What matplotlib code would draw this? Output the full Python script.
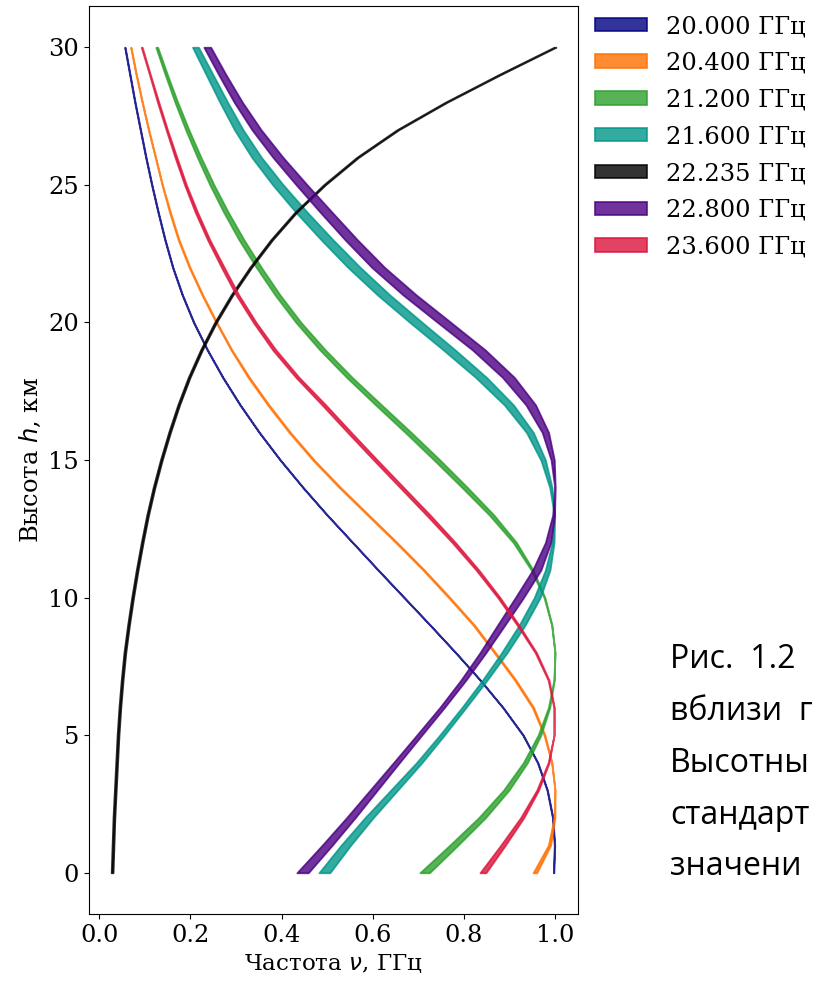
import matplotlib
matplotlib.use("Agg")
import matplotlib.pyplot as plt
import numpy as np

plt.rcParams['font.family'] = 'DejaVu Serif'
plt.rcParams['mathtext.fontset'] = 'dejavusans'
plt.rcParams['font.size'] = 17.4

# --- DATA: normalised weighting functions, h = 0..30 km, step 1 km ---
heights = np.arange(0, 31)

channels = ['20.000 ГГц', '20.400 ГГц', '21.200 ГГц', '21.600 ГГц',
            '22.235 ГГц', '22.800 ГГц', '23.600 ГГц']
colors = ['navy', '#ff7000', '#2ca02c', '#009688', 'black', 'indigo', 'crimson']

wf_20000 = [0.997, 0.999, 0.995, 0.983, 0.962, 0.930, 0.886, 0.836, 0.782, 0.726,
            0.669, 0.612, 0.556, 0.500, 0.447, 0.397, 0.351, 0.309, 0.271, 0.237,
            0.207, 0.182, 0.161, 0.144, 0.129, 0.115, 0.102, 0.090, 0.078, 0.067, 0.056]
wf_20400 = [0.956, 0.988, 0.999, 1.000, 0.993, 0.977, 0.952, 0.913, 0.868, 0.822,
            0.768, 0.712, 0.652, 0.590, 0.528, 0.470, 0.418, 0.371, 0.328, 0.290,
            0.257, 0.226, 0.198, 0.174, 0.155, 0.138, 0.123, 0.108, 0.094, 0.081, 0.069]
wf_21200 = [0.714, 0.778, 0.840, 0.893, 0.935, 0.966, 0.987, 0.998, 1.000, 0.993,
            0.977, 0.950, 0.912, 0.861, 0.802, 0.741, 0.678, 0.613, 0.549, 0.490,
            0.437, 0.391, 0.350, 0.312, 0.278, 0.247, 0.219, 0.193, 0.169, 0.147, 0.126]
wf_21600 = [0.494, 0.541, 0.592, 0.647, 0.702, 0.752, 0.800, 0.846, 0.889, 0.928,
            0.961, 0.984, 0.996, 0.999, 0.991, 0.974, 0.945, 0.899, 0.838, 0.768,
            0.695, 0.624, 0.559, 0.500, 0.444, 0.392, 0.345, 0.306, 0.273, 0.242, 0.211]
wf_22235 = [0.028, 0.030, 0.032, 0.035, 0.038, 0.041, 0.045, 0.050, 0.056, 0.064,
            0.073, 0.083, 0.094, 0.106, 0.120, 0.136, 0.154, 0.174, 0.197, 0.224,
            0.255, 0.291, 0.332, 0.378, 0.431, 0.494, 0.567, 0.655, 0.761, 0.878, 1.000]
wf_22800 = [0.446, 0.500, 0.552, 0.602, 0.652, 0.702, 0.752, 0.799, 0.842, 0.882,
            0.922, 0.960, 0.985, 0.997, 1.000, 0.995, 0.979, 0.947, 0.898, 0.833,
            0.757, 0.681, 0.612, 0.553, 0.498, 0.444, 0.392, 0.345, 0.305, 0.270, 0.237]
wf_23600 = [0.842, 0.886, 0.928, 0.962, 0.986, 0.998, 0.998, 0.986, 0.958, 0.919,
            0.877, 0.830, 0.778, 0.722, 0.664, 0.606, 0.549, 0.493, 0.435, 0.384,
            0.341, 0.303, 0.271, 0.240, 0.213, 0.189, 0.168, 0.148, 0.129, 0.111, 0.093]

# spread of the weighting function between atmosphere profiles
spread_20000 = [0.001] * 31
spread_20400 = [0.008, 0.005, 0.002, 0.000, 0.001, 0.002, 0.003, 0.003, 0.003, 0.003,
                0.003, 0.003, 0.003, 0.003, 0.003, 0.003, 0.003, 0.003, 0.003, 0.002,
                0.002, 0.002, 0.002, 0.002, 0.002, 0.001, 0.001, 0.001, 0.001, 0.001, 0.001]
spread_21200 = [0.021, 0.018, 0.015, 0.012, 0.009, 0.006, 0.003, 0.001, 0.000, 0.001,
                0.002, 0.004, 0.007, 0.010, 0.012, 0.013, 0.013, 0.013, 0.012, 0.012,
                0.011, 0.011, 0.011, 0.011, 0.010, 0.009, 0.008, 0.007, 0.006, 0.005, 0.004]
spread_21600 = [0.024, 0.021, 0.018, 0.015, 0.012, 0.010, 0.009, 0.010, 0.012, 0.013,
                0.013, 0.010, 0.004, 0.001, 0.005, 0.010, 0.015, 0.020, 0.024, 0.026,
                0.027, 0.027, 0.027, 0.026, 0.025, 0.023, 0.021, 0.019, 0.017, 0.015, 0.013]
spread_22235 = [0.004] * 31
spread_22800 = [0.025, 0.022, 0.019, 0.016, 0.013, 0.011, 0.010, 0.011, 0.013, 0.016,
                0.018, 0.018, 0.012, 0.004, 0.001, 0.007, 0.014, 0.021, 0.026, 0.028,
                0.029, 0.029, 0.028, 0.027, 0.026, 0.024, 0.022, 0.020, 0.018, 0.016, 0.015]
spread_23600 = [0.013, 0.010, 0.007, 0.004, 0.002, 0.000, 0.001, 0.002, 0.003, 0.004,
                0.005, 0.006, 0.007, 0.008, 0.008, 0.008, 0.008, 0.008, 0.007, 0.007,
                0.006, 0.006, 0.006, 0.005, 0.005, 0.004, 0.004, 0.003, 0.003, 0.002, 0.002]

centres = [wf_20000, wf_20400, wf_21200, wf_21600, wf_22235, wf_22800, wf_23600]
spreads = [spread_20000, spread_20400, spread_21200, spread_21600,
           spread_22235, spread_22800, spread_23600]

caption = ['Рис.  1.2', 'вблизи  г', 'Высотны', 'стандарт', 'значени']

# --- PLOT ---
fig = plt.figure(figsize=(8.2, 9.82), dpi=100)
ax = fig.add_axes([0.1085, 0.0692, 0.5965, 0.9247])

for label, c, centre, spread in zip(channels, colors, centres, spreads):
    centre = np.array(centre)
    half = np.array(spread) / 2
    ax.fill_betweenx(heights, centre - half, centre + half, color=c,
                     alpha=0.8, linewidth=1.3, label=label)

ax.set_xticks(np.arange(0, 1.01, 0.2))
ax.set_yticks(np.arange(0, 31, 5))
ax.set_xlabel('Частота $\\nu$, ГГц', fontsize=16.6)
ax.set_ylabel('Высота $h$, км')

ax.legend(loc='upper left', bbox_to_anchor=(0.7256, 0.9847),
          bbox_transform=fig.transFigure, frameon=False, borderpad=0,
          borderaxespad=0, handlelength=2.15, handleheight=0.48,
          handletextpad=0.8, labelspacing=0.57)

for i, line in enumerate(caption):
    fig.text(0.817, 0.3195 - i * 0.0527, line, family='Open Sans',
             fontsize=23, va='baseline', ha='left')

fig.savefig('out.png', dpi=100)
